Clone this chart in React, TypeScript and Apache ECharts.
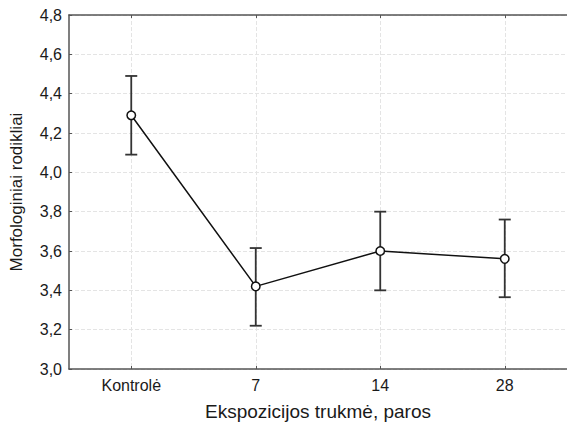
import React, { useEffect, useRef } from "react";
import * as echarts from "echarts";

const categories = ["Kontrolė", "7", "14", "28"];
const means = [4.29, 3.42, 3.6, 3.56];
const lower = [4.09, 3.22, 3.4, 3.365];
const upper = [4.49, 3.615, 3.8, 3.76];

const yTitle = "Morfologiniai rodikliai";
const xTitle = "Ekspozicijos trukmė, paros";

export default function App() {
  const ref = useRef<HTMLDivElement>(null);
  useEffect(() => {
    document.body.style.margin = "0";
    const chart = echarts.init(ref.current!, null, { renderer: "svg" });
    const font = "'Liberation Sans', Arial, sans-serif";
    const errData = categories.map((_, i) => [i, lower[i], upper[i]]);
    chart.setOption({
      animation: false,
      backgroundColor: "#fff",
      grid: { left: 66, top: 15, right: -1, bottom: 56 },
      xAxis: [
        {
          type: "category",
          data: categories,
          boundaryGap: true,
          name: xTitle,
          nameLocation: "middle",
          nameGap: 33,
          nameTextStyle: { fontFamily: font, fontSize: 19, color: "#1a1a1a" },
          axisLine: { lineStyle: { color: "#555", width: 1.5 } },
          axisTick: { show: true, inside: true, alignWithLabel: true, length: 3, lineStyle: { color: "#555" } },
          axisLabel: { fontFamily: font, fontSize: 16, color: "#1a1a1a", margin: 8 },
          splitLine: { show: true, alignWithLabel: true, lineStyle: { color: "#e4e4e4", type: "dashed", width: 1 } },
        },
        {
          type: "category",
          data: categories,
          position: "top",
          boundaryGap: true,
          axisLine: { show: true, lineStyle: { color: "#555", width: 1.5 } },
          axisTick: { show: true, inside: true, alignWithLabel: true, length: 3, lineStyle: { color: "#555" } },
          axisLabel: { show: false },
          splitLine: { show: false },
        },
      ],
      yAxis: {
        type: "value",
        min: 3,
        max: 4.8,
        interval: 0.2,
        name: yTitle,
        nameLocation: "middle",
        nameGap: 44,
        nameTextStyle: { fontFamily: font, fontSize: 17, color: "#1a1a1a" },
        axisLine: { show: true, lineStyle: { color: "#555", width: 1.5 } },
        axisTick: { show: true, inside: true, length: 3, lineStyle: { color: "#555" } },
        axisLabel: {
          fontFamily: font,
          fontSize: 16,
          color: "#1a1a1a",
          margin: 7,
          formatter: (v: number) => v.toFixed(1).replace(".", ","),
        },
        splitLine: { show: true, lineStyle: { color: "#e4e4e4", type: "dashed", width: 1 } },
      },
      series: [
        {
          type: "custom",
          data: errData,
          z: 2,
          renderItem: (params: any, api: any) => {
            const x = api.value(0);
            const lo = api.coord([x, api.value(1)]);
            const hi = api.coord([x, api.value(2)]);
            const w = 6;
            const style = { stroke: "#333", lineWidth: 1.8 };
            return {
              type: "group",
              children: [
                { type: "line", shape: { x1: lo[0], y1: lo[1], x2: hi[0], y2: hi[1] }, style },
                { type: "line", shape: { x1: lo[0] - w, y1: lo[1], x2: lo[0] + w, y2: lo[1] }, style },
                { type: "line", shape: { x1: hi[0] - w, y1: hi[1], x2: hi[0] + w, y2: hi[1] }, style },
              ],
            };
          },
        },
        {
          type: "line",
          data: means,
          z: 3,
          symbol: "circle",
          symbolSize: 8.5,
          lineStyle: { color: "#111", width: 1.5 },
          itemStyle: { color: "#fff", borderColor: "#111", borderWidth: 1.5 },
        },
      ],
    });
    return () => chart.dispose();
  }, []);
  return <div ref={ref} style={{ width: 567, height: 426 }} />;
}
